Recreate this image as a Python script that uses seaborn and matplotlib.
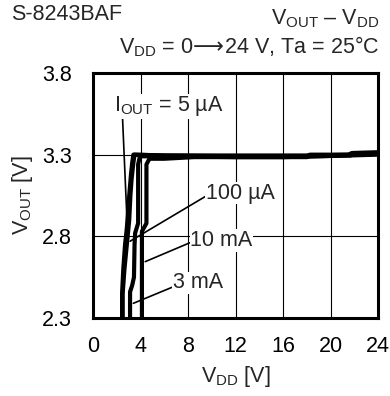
import numpy as np
import pandas as pd
from matplotlib import pyplot as plt
import seaborn as sns

# curve points (V_DD [V], V_OUT [V])
vdd_5ua = [2.45, 2.45, 2.55, 2.7, 2.85, 2.95, 3.05, 3.2, 3.3, 3.4, 6, 12, 18, 18.3, 21.5, 21.8, 24]
vout_5ua = [2.30, 2.45, 2.6, 2.75, 2.85, 2.95, 3.05, 3.18, 3.25, 3.30, 3.295, 3.295, 3.295, 3.30, 3.30, 3.31, 3.315]

vdd_100ua = [2.5, 2.5, 2.65, 2.85, 3.05, 3.15, 3.25, 3.4, 3.5, 6, 12, 18, 18.3, 21.7, 22, 24]
vout_100ua = [2.30, 2.45, 2.6, 2.75, 2.9, 3.05, 3.15, 3.25, 3.30, 3.295, 3.29, 3.29, 3.295, 3.30, 3.31, 3.31]

vdd_3ma = [3.12, 3.12, 3.3, 3.45, 3.5, 3.55, 3.8, 3.8, 3.95, 6, 12, 18, 18.3, 21.7, 22, 24]
vout_3ma = [2.30, 2.46, 2.50, 2.55, 2.75, 2.82, 2.88, 3.24, 3.29, 3.29, 3.285, 3.285, 3.29, 3.295, 3.305, 3.305]

vdd_10ma = [4.12, 4.12, 4.5, 4.5, 4.75, 6, 8.5, 12, 16, 19, 24]
vout_10ma = [2.30, 2.83, 2.88, 3.24, 3.275, 3.275, 3.285, 3.285, 3.285, 3.29, 3.30]

x_ticks = [0, 4, 8, 12, 16, 20, 24]
y_ticks = [2.3, 2.8, 3.3, 3.8]

frames = []
for name, xs, ys in [('5uA', vdd_5ua, vout_5ua), ('100uA', vdd_100ua, vout_100ua),
                     ('3mA', vdd_3ma, vout_3ma), ('10mA', vdd_10ma, vout_10ma)]:
    frames.append(pd.DataFrame({'vdd': xs, 'vout': ys, 'iout': name}))
df = pd.concat(frames, ignore_index=True)

sns.set_style('white')
plt.rcParams['font.family'] = ['Liberation Sans', 'DejaVu Sans']
plt.rcParams['mathtext.fontset'] = 'custom'
plt.rcParams['mathtext.rm'] = 'Liberation Sans'
plt.rcParams['mathtext.it'] = 'Liberation Sans:italic'
plt.rcParams['mathtext.sf'] = 'DejaVu Sans'

fs = 15.5

fig = plt.figure(figsize=(3.9, 3.96), dpi=100)
ax = fig.add_axes([93/390, 1-318/396, 285/390, 245/396])

sns.lineplot(data=df, x='vdd', y='vout', hue='iout', units='iout', estimator=None,
             sort=False, palette=['black']*4, linewidth=3, legend=False, ax=ax, zorder=3)

ax.set_xlim(0, 24)
ax.set_ylim(2.3, 3.8)
ax.set_xticks(x_ticks)
ax.set_yticks(y_ticks)
ax.set_yticklabels(['2.3', '2.8', '3.3', '3.8'])
ax.tick_params(length=0, labelsize=fs, colors='black')
ax.tick_params(axis='x', pad=13)
ax.tick_params(axis='y', pad=15)
ax.grid(True, color='black', linewidth=0.8)
for s in ax.spines.values():
    s.set_color('black')
    s.set_linewidth(2.2)
    s.set_zorder(5)

ax.set_xlabel(r'V$_{\mathrm{DD}}$ [V]', fontsize=fs, labelpad=5)
ax.set_ylabel(r'V$_{\mathrm{OUT}}$ [V]', fontsize=fs, labelpad=5)

box = dict(facecolor='white', edgecolor='none', pad=0.5)


def lp(rel):
    return dict(arrowstyle='-', color='black', lw=1.2, shrinkA=0, shrinkB=0, relpos=rel)


ax.annotate(r'I$_{\mathrm{OUT}}$ = 5 µA', xy=(2.85, 2.92), xytext=(1.75, 3.595),
            fontsize=fs, va='center', ha='left', bbox=box, arrowprops=lp((0.08, 0)), zorder=4)
ax.annotate('100 µA', xy=(3.12, 2.77), xytext=(9.5, 3.065),
            fontsize=fs, va='center', ha='left', bbox=box, arrowprops=lp((0, 0.35)), zorder=4)
ax.annotate('10 mA', xy=(4.4, 2.645), xytext=(8.2, 2.775),
            fontsize=fs, va='center', ha='left', bbox=box, arrowprops=lp((0, 0.4)), zorder=4)
ax.annotate('3 mA', xy=(3.4, 2.39), xytext=(6.7, 2.515),
            fontsize=fs, va='center', ha='left', bbox=box, arrowprops=lp((0, 0.3)), zorder=4)

fig.text(11/390, 1-14/396, 'S-8243BAF', fontsize=fs, va='center', ha='left')
fig.text(379/390, 1-19/396, r'V$_{\mathrm{OUT}}$ – V$_{\mathrm{DD}}$', fontsize=fs,
         va='center', ha='right')
fig.text(379/390, 1-47/396,
         r'V$_{\mathrm{DD}}$ = 0$\!\mathsf{\longrightarrow}\!$24 V, Ta = 25°C',
         fontsize=fs, va='center', ha='right')

fig.savefig('out.png', dpi=100)
